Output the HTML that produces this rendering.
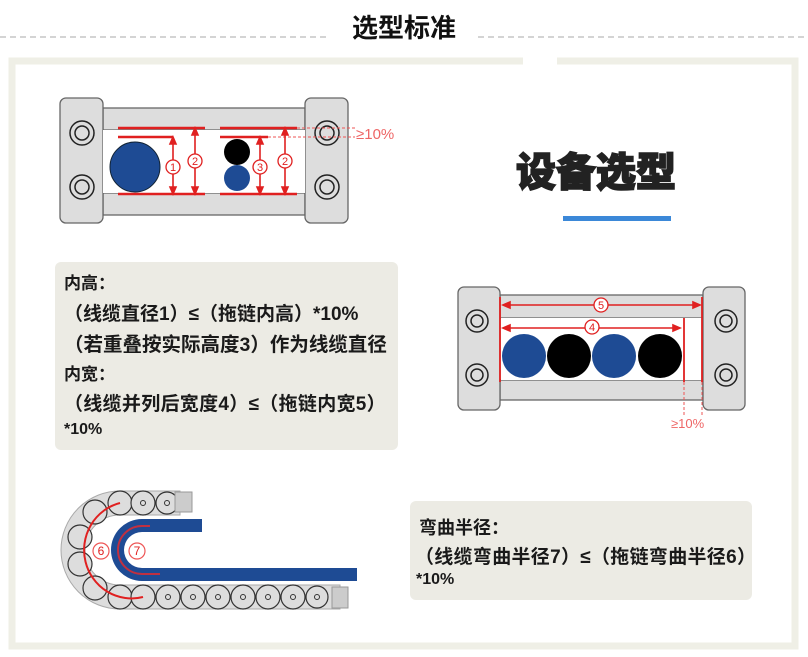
<!DOCTYPE html>
<html><head><meta charset="utf-8"><style>
body{margin:0;width:808px;height:657px;background:#fff;overflow:hidden;position:relative;font-family:"Liberation Sans","Noto Sans CJK SC",sans-serif}
.box{position:absolute;background:#ecebe4;border-radius:6px;color:#1a1a1a;font-weight:bold;font-size:18px}
.box div{position:absolute;left:9px;white-space:nowrap}
</style></head><body>
<svg width="808" height="657" style="position:absolute;left:0;top:0">
<line x1="0" y1="37" x2="330" y2="37" stroke="#bbb" stroke-width="1.3" stroke-dasharray="6,4"/>
<line x1="478" y1="37" x2="808" y2="37" stroke="#bbb" stroke-width="1.3" stroke-dasharray="6,4"/>
<text x="404" y="37" font-size="26" font-weight="bold" text-anchor="middle" fill="#111" font-family="Noto Sans CJK SC,sans-serif">选型标准</text>
<path d="M523 61 H12 V646 H795 V61 H557" fill="none" stroke="#efefe6" stroke-width="7"/>
<g stroke="#666" stroke-width="1.3">
<rect x="103" y="108" width="202" height="22" fill="#ddd"/>
<rect x="103" y="193" width="202" height="22" fill="#ddd"/>
<rect x="60" y="98" width="43" height="125" rx="6" fill="#ddd"/>
<rect x="305" y="98" width="43" height="125" rx="6" fill="#ddd"/>
</g>
<g fill="none" stroke="#222" stroke-width="1.5">
<circle cx="82" cy="133" r="12"/><circle cx="82" cy="133" r="7"/>
<circle cx="82" cy="187" r="12"/><circle cx="82" cy="187" r="7"/>
<circle cx="327" cy="133" r="12"/><circle cx="327" cy="133" r="7"/>
<circle cx="327" cy="187" r="12"/><circle cx="327" cy="187" r="7"/>
</g>
<rect x="103" y="130" width="202" height="63" fill="#fff"/>
<g stroke="#e02020" stroke-width="2.5">
<line x1="118" y1="128" x2="205" y2="128"/><line x1="220" y1="128" x2="297" y2="128"/>
<line x1="118" y1="137" x2="173" y2="137"/><line x1="220" y1="137" x2="268" y2="137"/>
<line x1="118" y1="194" x2="205" y2="194"/><line x1="220" y1="194" x2="297" y2="194"/>
</g>
<g stroke="#e55" stroke-width="1" stroke-dasharray="3,2">
<line x1="297" y1="128" x2="355" y2="128"/><line x1="268" y1="137" x2="355" y2="137"/></g>
<text x="356" y="139" font-size="15" fill="#e66">≥10%</text>
<circle cx="135" cy="167" r="25" fill="#1e4b94" stroke="#123" stroke-width="1"/>
<circle cx="237" cy="152" r="13" fill="#000"/>
<circle cx="237" cy="178" r="13" fill="#1e4b94"/>
<g stroke="#e02020" stroke-width="1.6" fill="#e02020">
<line x1="173" y1="140" x2="173" y2="191"/><path d="M173 137 l-3 7 h6z M173 194 l-3 -7 h6z"/>
<line x1="195" y1="131" x2="195" y2="191"/><path d="M195 128 l-3 7 h6z M195 194 l-3 -7 h6z"/>
<line x1="260" y1="140" x2="260" y2="191"/><path d="M260 137 l-3 7 h6z M260 194 l-3 -7 h6z"/>
<line x1="285" y1="131" x2="285" y2="191"/><path d="M285 128 l-3 7 h6z M285 194 l-3 -7 h6z"/>
</g>
<g fill="#fff" stroke="#e02020" stroke-width="1.3">
<circle cx="173" cy="167" r="7"/><circle cx="195" cy="161" r="7"/><circle cx="260" cy="167" r="7"/><circle cx="285" cy="161" r="7"/></g>
<g fill="#e02020" font-size="11" text-anchor="middle">
<text x="173" y="171">1</text><text x="195" y="165">2</text><text x="260" y="171">3</text><text x="285" y="165">2</text></g>
<text x="596" y="186" font-size="40" font-weight="900" text-anchor="middle" fill="#222" stroke="#222" stroke-width="1.5" font-family="Noto Sans CJK SC,sans-serif">设备选型</text>
<rect x="563" y="216" width="108" height="5" fill="#3b88d8"/>
<g stroke="#666" stroke-width="1.3">
<rect x="500" y="295" width="203" height="23" fill="#ddd"/>
<rect x="500" y="380" width="203" height="20" fill="#ddd"/>
<rect x="458" y="287" width="42" height="123" rx="6" fill="#ddd"/>
<rect x="703" y="287" width="42" height="123" rx="6" fill="#ddd"/>
</g>
<rect x="501" y="318" width="201" height="62" fill="#fff"/>
<g fill="none" stroke="#222" stroke-width="1.5">
<circle cx="477" cy="321" r="11"/><circle cx="477" cy="321" r="6"/>
<circle cx="477" cy="375" r="11"/><circle cx="477" cy="375" r="6"/>
<circle cx="726" cy="321" r="11"/><circle cx="726" cy="321" r="6"/>
<circle cx="726" cy="375" r="11"/><circle cx="726" cy="375" r="6"/>
</g>
<g stroke="#e02020" stroke-width="1.8">
<line x1="500" y1="297" x2="500" y2="382"/><line x1="702" y1="297" x2="702" y2="382"/><line x1="684" y1="318" x2="684" y2="382"/></g>
<g stroke="#e55" stroke-width="1" stroke-dasharray="3,2"><line x1="684" y1="382" x2="684" y2="415"/><line x1="702" y1="382" x2="702" y2="415"/></g>
<text x="671" y="428" font-size="13" fill="#e66">≥10%</text>
<g stroke="#e02020" stroke-width="1.6" fill="#e02020">
<line x1="506" y1="305" x2="697" y2="305"/><path d="M503 305 l7 -3 v6z M700 305 l-7 -3 v6z"/>
<line x1="506" y1="328" x2="677" y2="328"/><path d="M503 328 l7 -3 v6z M680 328 l-7 -3 v6z"/>
</g>
<g fill="#fff" stroke="#e02020" stroke-width="1.3"><circle cx="601" cy="305" r="7"/><circle cx="592" cy="327" r="7"/></g>
<g fill="#e02020" font-size="11" text-anchor="middle"><text x="601" y="309">5</text><text x="592" y="331">4</text></g>
<circle cx="524" cy="356" r="22" fill="#1e4b94"/><circle cx="569" cy="356" r="22" fill="#000"/>
<circle cx="614" cy="356" r="22" fill="#1e4b94"/><circle cx="660" cy="356" r="22" fill="#000"/>
<path d="M120 491 H180 V515 H120 A35 35 0 0 0 120 585 H340 V609 H120 A59 59 0 0 1 120 491Z" fill="#ddd" stroke="#aaa"/>
<g fill="#ddd" stroke="#333" stroke-width="1.2">
<circle cx="120" cy="503" r="12"/><circle cx="143" cy="503" r="12"/><circle cx="167" cy="503" r="11"/>
<circle cx="95" cy="512" r="12"/><circle cx="80" cy="537" r="12"/><circle cx="80" cy="564" r="12"/><circle cx="95" cy="588" r="12"/>
<circle cx="120" cy="597" r="12"/><circle cx="143" cy="597" r="12"/><circle cx="168" cy="597" r="12"/><circle cx="193" cy="597" r="12"/><circle cx="218" cy="597" r="12"/><circle cx="243" cy="597" r="12"/><circle cx="268" cy="597" r="12"/><circle cx="293" cy="597" r="12"/><circle cx="317" cy="597" r="11"/>
</g>
<g fill="none" stroke="#333" stroke-width="1">
<circle cx="143" cy="503" r="2.5"/><circle cx="167" cy="503" r="2.5"/><circle cx="168" cy="597" r="2.5"/><circle cx="193" cy="597" r="2.5"/><circle cx="218" cy="597" r="2.5"/><circle cx="243" cy="597" r="2.5"/><circle cx="268" cy="597" r="2.5"/><circle cx="293" cy="597" r="2.5"/><circle cx="317" cy="597" r="2.5"/></g>
<rect x="175" y="492" width="17" height="20" fill="#ccc" stroke="#999"/>
<rect x="332" y="587" width="16" height="21" fill="#ccc" stroke="#999"/>
<path d="M202 519 H142 A31 31 0 0 0 142 581 H357 V568 H142 A18 18 0 0 1 142 532 H202Z" fill="#1e4b94"/>
<path d="M150 526 H142 A24 24 0 0 0 142 574 H160" fill="none" stroke="#c03040" stroke-width="2"/>
<path d="M120 503 A46 47 0 0 0 143 597" fill="none" stroke="#e02020" stroke-width="2"/>
<g fill="#fff" stroke="#e55" stroke-width="1.2"><circle cx="101" cy="551" r="8"/><circle cx="137" cy="551" r="8"/></g>
<g fill="#e02020" font-size="12" text-anchor="middle"><text x="101" y="555">6</text><text x="137" y="555">7</text></g>
</svg>
<div class="box" style="left:55px;top:262px;width:343px;height:188px">
<div style="top:7px;font-size:17px">内高：</div>
<div style="top:37px;font-size:19px">（线缆直径1）≤（拖链内高）*10%</div>
<div style="top:66px;font-size:19.5px">（若重叠按实际高度3）作为线缆直径</div>
<div style="top:98px;font-size:17px">内宽：</div>
<div style="top:127px;font-size:19px;letter-spacing:0.3px">（线缆并列后宽度4）≤（拖链内宽5）</div>
<div style="top:159px;font-size:16px">*10%</div>
</div>
<div class="box" style="left:410px;top:501px;width:342px;height:99px">
<div style="top:13px;font-size:18px">弯曲半径：</div>
<div style="top:41px;font-size:19px;left:5px;letter-spacing:0.3px">（线缆弯曲半径7）≤（拖链弯曲半径6）</div>
<div style="top:70px;font-size:16px;left:6px">*10%</div>
</div>
</body></html>
